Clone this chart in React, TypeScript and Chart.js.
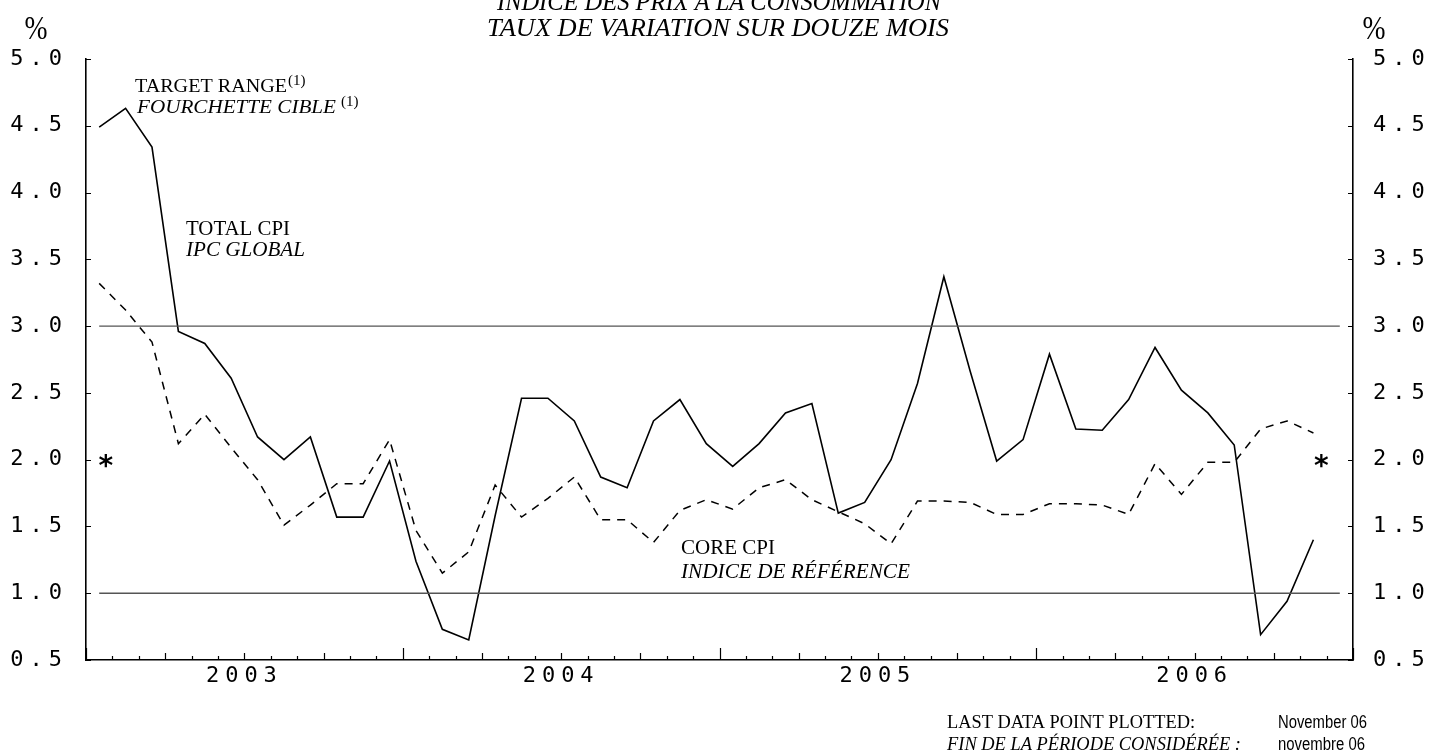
import React, { useEffect, useRef } from 'react';
import { Chart, registerables } from 'chart.js';

Chart.register(...registerables);

// ---------- data ----------
const yearLabels = ['2003', '2004', '2005', '2006'];
const monthNames = ['Jan', 'Feb', 'Mar', 'Apr', 'May', 'Jun', 'Jul', 'Aug', 'Sep', 'Oct', 'Nov', 'Dec'];
const months: string[] = yearLabels.flatMap((y) => monthNames.map((m) => `${m} ${y}`));

// Total CPI, 12-month % change, Jan 2003 - Nov 2006
const totalCPI = [
  4.49, 4.63, 4.34, 2.96, 2.87, 2.61, 2.17, 2.0, 2.17, 1.57, 1.57, 1.99,
  1.24, 0.73, 0.65, 1.58, 2.46, 2.46, 2.29, 1.87, 1.79, 2.29, 2.45, 2.12,
  1.95, 2.12, 2.35, 2.42, 1.6, 1.68, 2.0, 2.57, 3.37, 2.66, 1.99, 2.15,
  2.79, 2.23, 2.22, 2.45, 2.84, 2.52, 2.35, 2.11, 0.69, 0.94, 1.4,
];

// Core CPI, 12-month % change, Jan 2003 - Nov 2006
const coreCPI = [
  3.32, 3.12, 2.88, 2.12, 2.34, 2.09, 1.85, 1.51, 1.66, 1.82, 1.82, 2.15,
  1.47, 1.15, 1.31, 1.81, 1.57, 1.71, 1.87, 1.55, 1.55, 1.38, 1.62, 1.7,
  1.63, 1.79, 1.85, 1.7, 1.61, 1.52, 1.37, 1.69, 1.69, 1.68, 1.59, 1.59,
  1.67, 1.67, 1.66, 1.59, 1.97, 1.74, 1.98, 1.98, 2.23, 2.29, 2.2,
];

const targetRange = [1.0, 3.0];
const targetMidpoint = 2.0;
const yMin = 0.5;
const yMax = 5.0;
const yStep = 0.5;

// ---------- helpers ----------
const TICK_FONT = '"DejaVu Sans Mono"';
const SERIF = '"Liberation Serif"';
const SANS = '"Liberation Sans"';

function drawText(
  ctx: CanvasRenderingContext2D,
  text: string,
  x: number,
  y: number,
  font: string,
  fit?: number,
  align: CanvasTextAlign = 'left'
): number {
  ctx.save();
  (ctx as any).letterSpacing = '0px';
  ctx.font = font;
  ctx.fillStyle = '#000';
  ctx.textBaseline = 'alphabetic';
  ctx.textAlign = align;
  const w = ctx.measureText(text).width;
  const sx = fit ? fit / w : 1;
  ctx.translate(x, y);
  ctx.scale(sx, 1);
  ctx.fillText(text, 0, 0);
  ctx.restore();
  return w * sx;
}

const decorPlugin = {
  id: 'decor',
  beforeDraw(chart: any) {
    (chart.ctx as any).letterSpacing = '6px';
  },
  afterDraw(chart: any) {
    const ctx: CanvasRenderingContext2D = chart.ctx;
    (ctx as any).letterSpacing = '0px';
    const xs = chart.scales.x;
    const ys = chart.scales.y;
    const area = chart.chartArea;

    // inward tick marks on x axis (monthly / quarterly / yearly)
    ctx.save();
    ctx.strokeStyle = '#000';
    ctx.lineWidth = 1.2;
    ctx.beginPath();
    for (let m = 0; m <= months.length; m++) {
      const px = Math.round(xs.getPixelForValue(m)) + 0.5;
      const len = m % 12 === 0 ? 12 : m % 3 === 0 ? 7 : 4;
      ctx.moveTo(px, area.bottom);
      ctx.lineTo(px, area.bottom - len);
    }
    // inward tick marks on both y axes
    for (let v = yMin; v <= yMax + 1e-9; v += yStep) {
      const py = Math.round(ys.getPixelForValue(v)) + 0.5;
      ctx.moveTo(area.left, py);
      ctx.lineTo(area.left + 5, py);
      ctx.moveTo(area.right, py);
      ctx.lineTo(area.right - 5, py);
    }
    ctx.stroke();
    ctx.restore();

    // titles
    drawText(ctx, 'INDICE DES PRIX À LA CONSOMMATION', 719, 10, `italic 26px ${SERIF}`, 444, 'center');
    drawText(ctx, 'TAUX DE VARIATION SUR DOUZE MOIS', 718, 36, `italic 26px ${SERIF}`, 462, 'center');
    drawText(ctx, '%', 36, 39, `34px ${SERIF}`, 23, 'center');
    drawText(ctx, '%', 1374, 39, `34px ${SERIF}`, 23, 'center');

    // series labels
    let w = drawText(ctx, 'TARGET RANGE', 135, 92, `19px ${SERIF}`, 152);
    drawText(ctx, '(1)', 135 + w + 1, 85, `15px ${SERIF}`);
    w = drawText(ctx, 'FOURCHETTE CIBLE', 137, 113, `italic 19px ${SERIF}`, 199);
    drawText(ctx, '(1)', 137 + w + 5, 106, `15px ${SERIF}`);

    drawText(ctx, 'TOTAL CPI', 186, 235, `20px ${SERIF}`, 104);
    drawText(ctx, 'IPC GLOBAL', 186, 256, `italic 20px ${SERIF}`, 119);

    drawText(ctx, 'CORE CPI', 681, 554, `20px ${SERIF}`, 94);
    drawText(ctx, 'INDICE DE RÉFÉRENCE', 681, 578, `italic 20px ${SERIF}`, 229);

    // footer
    drawText(ctx, 'LAST DATA POINT PLOTTED:', 947, 728, `18px ${SERIF}`, 248);
    drawText(ctx, 'FIN DE LA PÉRIODE CONSIDÉRÉE :', 947, 750, `italic 18px ${SERIF}`, 294);
    drawText(ctx, 'November 06', 1278, 728, `18px ${SANS}`, 89);
    drawText(ctx, 'novembre 06', 1278, 750, `18px ${SANS}`, 87);

    // asterisks marking the target midpoint
    const ay = ys.getPixelForValue(targetMidpoint);
    const astSize = 28;
    const ab = ay + astSize * 0.56;
    drawText(ctx, '*', xs.getPixelForValue(0.75), ab, `bold ${astSize}px "DejaVu Sans"`, undefined, 'center');
    drawText(ctx, '*', xs.getPixelForValue(months.length - 1.2), ab, `bold ${astSize}px "DejaVu Sans"`, undefined, 'center');
  },
};

export default function App() {
  const ref = useRef<HTMLCanvasElement | null>(null);

  useEffect(() => {
    if (!ref.current) return;
    const toPoints = (arr: number[]) => arr.map((v, i) => ({ x: i + 0.5, y: v }));
    const flat = (v: number) => months.map((_, i) => ({ x: i + 0.5, y: v }));
    const yearTickValues = yearLabels.map((_, k) => k * 12 + 6);

    const yAxisBase = {
      type: 'linear' as const,
      min: yMin,
      max: yMax,
      display: true,
      grid: { display: false, drawTicks: false },
      border: { display: true, color: '#000', width: 1.6 },
    };

    const chart = new Chart(ref.current, {
      type: 'line',
      data: {
        datasets: [
          {
            label: 'Target range upper',
            data: flat(targetRange[1]),
            borderColor: '#555',
            borderWidth: 1.4,
            pointRadius: 0,
          },
          {
            label: 'Target range lower',
            data: flat(targetRange[0]),
            borderColor: '#555',
            borderWidth: 1.4,
            pointRadius: 0,
          },
          {
            label: 'Core CPI',
            data: toPoints(coreCPI),
            borderColor: '#000',
            borderWidth: 1.5,
            borderDash: [8, 7],
            pointRadius: 0,
          },
          {
            label: 'Total CPI',
            data: toPoints(totalCPI),
            borderColor: '#000',
            borderWidth: 1.6,
            pointRadius: 0,
          },
        ],
      },
      options: {
        animation: false,
        responsive: false,
        parsing: false as any,
        layout: { padding: { top: 59, left: 0, right: 0, bottom: 0 } },
        plugins: {
          legend: { display: false },
          tooltip: { enabled: false },
          title: { display: false },
        },
        elements: { line: { tension: 0 } },
        scales: {
          x: {
            type: 'linear',
            min: 0,
            max: months.length,
            grid: { display: false, drawTicks: false },
            border: { display: true, color: '#000', width: 1.6 },
            afterBuildTicks: (axis: any) => {
              axis.ticks = yearTickValues.map((v) => ({ value: v }));
            },
            afterFit: (axis: any) => {
              axis.height = 94;
            },
            ticks: {
              autoSkip: false,
              maxRotation: 0,
              padding: 3,
              color: '#000',
              font: { family: TICK_FONT, size: 22 },
              callback: (v: any) => yearLabels[Math.round((Number(v) - 6) / 12)] ?? '',
            },
          },
          y: {
            ...yAxisBase,
            position: 'left',
            afterFit: (axis: any) => {
              axis.width = 86;
            },
            ticks: {
              stepSize: yStep,
              padding: 18,
              color: '#000',
              font: { family: TICK_FONT, size: 22 },
              callback: (v: any) => Number(v).toFixed(1),
            },
          },
          y2: {
            ...yAxisBase,
            position: 'right',
            afterFit: (axis: any) => {
              axis.width = 87;
            },
            ticks: {
              stepSize: yStep,
              padding: 20,
              color: '#000',
              font: { family: TICK_FONT, size: 22 },
              callback: (v: any) => Number(v).toFixed(1),
            },
          },
        },
      },
      plugins: [decorPlugin],
    });
    return () => chart.destroy();
  }, []);

  return (
    <div style={{ position: 'fixed', left: 0, top: 0, width: 1440, height: 754, background: '#fff' }}>
      <canvas ref={ref} width={1440} height={754} style={{ display: 'block', width: 1440, height: 754 }} />
    </div>
  );
}
